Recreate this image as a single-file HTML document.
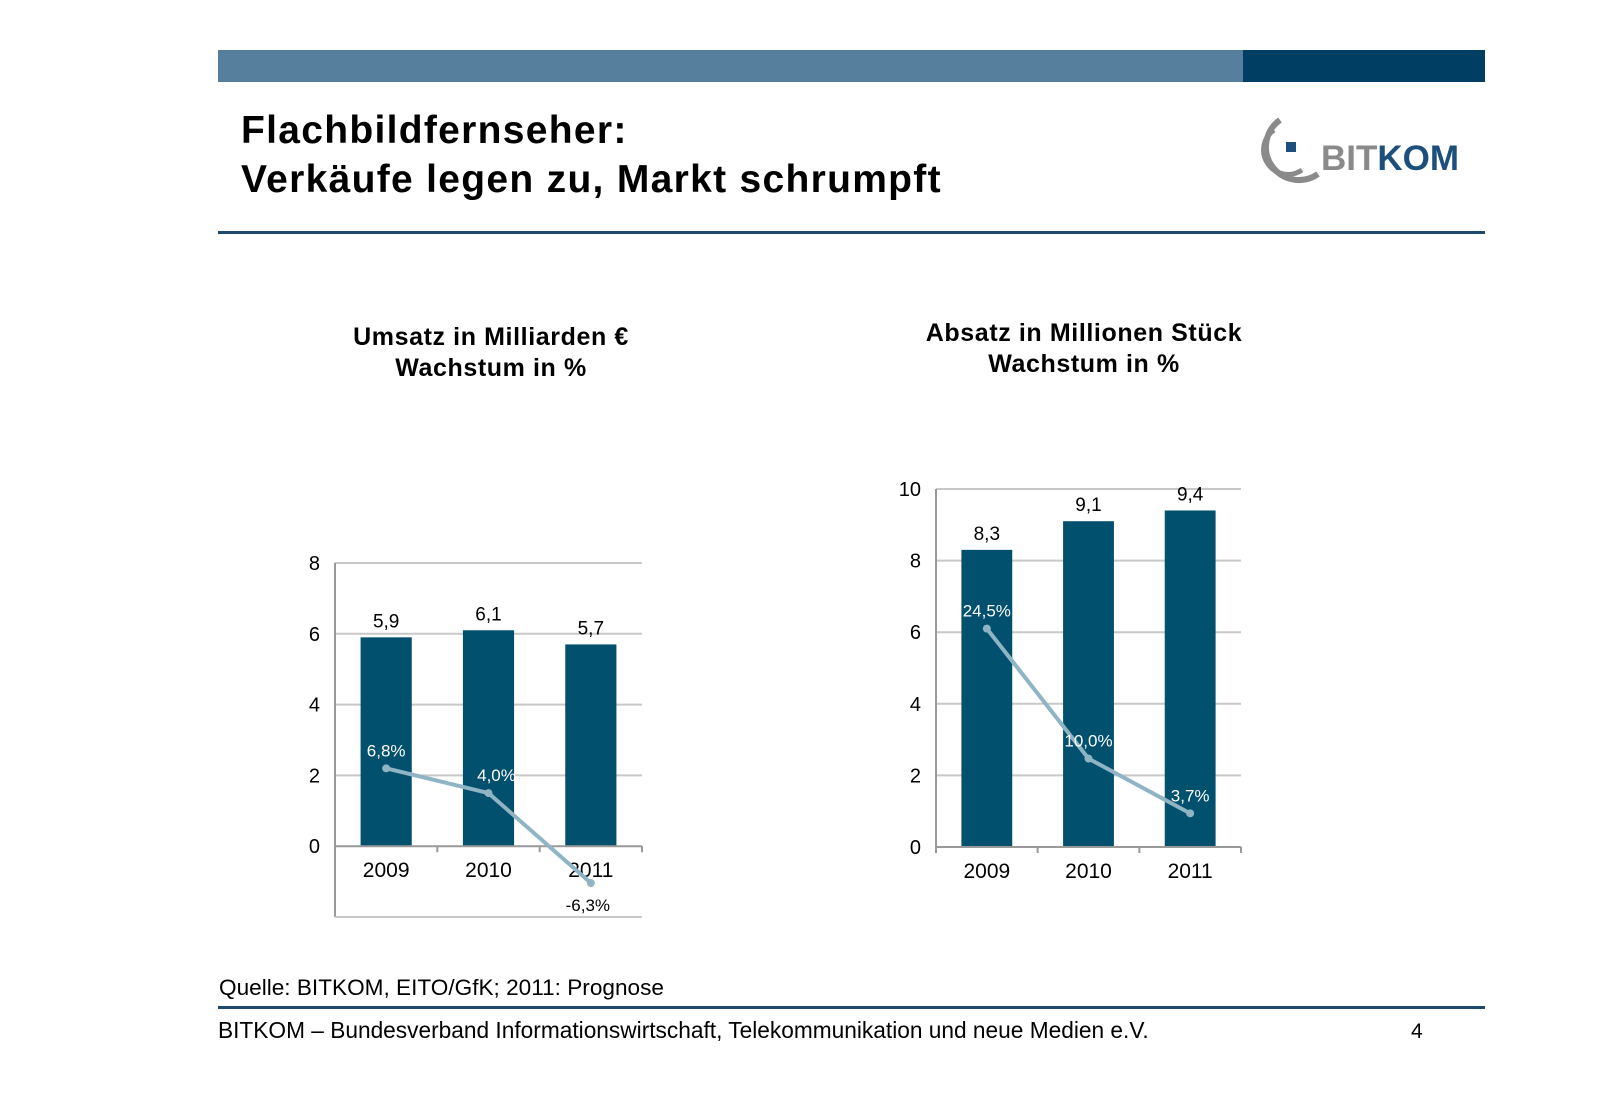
<!DOCTYPE html>
<html><head><meta charset="utf-8">
<style>
body{margin:0;width:1600px;height:1109px;background:#fff;font-family:"Liberation Sans",Arial,sans-serif;overflow:hidden;position:relative}
.abs{position:absolute}
</style></head><body>
<div class="abs" style="left:218px;top:50px;width:1025px;height:32px;background:#567e9d"></div>
<div class="abs" style="left:1243px;top:50px;width:242px;height:32px;background:#003f63"></div>
<div class="abs" style="left:241px;top:106px;font-size:39px;letter-spacing:1.3px;font-weight:bold;line-height:49px;color:#000">Flachbildfernseher:<br>Verkäufe legen zu, Markt schrumpft</div>
<svg class="abs" style="left:1250px;top:112px" width="220" height="80">
<path d="M30 8 A32 32 0 1 0 68 62" fill="none" stroke="#8a8a8a" stroke-width="6"/>
<path d="M24 18 A22 22 0 0 0 52 58" fill="none" stroke="#8a8a8a" stroke-width="5"/>
<rect x="36" y="30" width="10" height="10" fill="#1d4f7c"/>
<text x="71" y="58" font-size="35" font-weight="bold" fill="#8a8a8a" font-family="Liberation Sans Narrow,Liberation Sans,sans-serif">BIT<tspan fill="#1d4f7c">KOM</tspan></text>
</svg>
<div class="abs" style="left:218px;top:231px;width:1267px;height:3px;background:#1d4a6e"></div>

<svg class="abs" id="charts" style="left:0;top:0" width="1600" height="1109"></svg>

<div class="abs" style="left:219px;top:975px;font-size:22.6px;color:#000">Quelle: BITKOM, EITO/GfK; 2011: Prognose</div>
<div class="abs" style="left:218px;top:1006px;width:1267px;height:3px;background:#1d4a6e"></div>
<div class="abs" style="left:218px;top:1017px;font-size:22.7px;color:#000">BITKOM – Bundesverband Informationswirtschaft, Telekommunikation und neue Medien e.V.</div>
<div class="abs" style="left:1411px;top:1020px;font-size:21px;color:#000">4</div>

<script>
const categories = ["2009","2010","2011"];
const umsatzValues = [5.9, 6.1, 5.7];
const umsatzLabels = ["5,9","6,1","5,7"];
const umsatzGrowth = [2.2, 1.5, -1.04];
const umsatzGrowthLabels = ["6,8%","4,0%","-6,3%"];
const umsatzTicks = [0,2,4,6,8];
const absatzValues = [8.3, 9.1, 9.4];
const absatzLabels = ["8,3","9,1","9,4"];
const absatzGrowth = [6.1, 2.47, 0.94];
const absatzGrowthLabels = ["24,5%","10,0%","3,7%"];
const absatzTicks = [0,2,4,6,8,10];

const NS="http://www.w3.org/2000/svg";
const svg=document.getElementById('charts');
function mk(tag,attrs,parent){const e=document.createElementNS(NS,tag);for(const k in attrs)e.setAttribute(k,attrs[k]);(parent||svg).appendChild(e);return e;}

function chart(cfg){
  const g=mk('g',{});
  
  
  const y=v=>cfg.y0-(v-cfg.min)/(cfg.max-cfg.min)*(cfg.y0-cfg.y1);
  const bandW=(cfg.x1-cfg.x0)/categories.length;
  const xc=i=>cfg.x0+bandW*(i+0.5);
  const t=mk('text',{x:cfg.titleX,y:cfg.titleY,'text-anchor':'middle','font-size':25,'letter-spacing':0.6,'font-weight':'bold'},g);
  
  
  cfg.title.forEach((s,i)=>{const ts=mk('tspan',{x:cfg.titleX,dy:i?31:0},t);ts.textContent=s;});
  cfg.ticks.forEach(v=>{
    if(v!==0){const gl=mk('line',{x1:cfg.x0,x2:cfg.x1,y1:y(v),y2:y(v),stroke:'#c8c8c8','stroke-width':2},g);
    
    }
    const tl=mk('text',{x:cfg.x0-15,y:y(v)+7,'text-anchor':'end','font-size':20},g);
    
    
    tl.textContent=v;
  });
  const ax=mk('line',{x1:cfg.x0,x2:cfg.x0,y1:y(cfg.max),y2:y(cfg.min),stroke:'#999','stroke-width':2},g);
  
  
  if(cfg.min<0){const bl=mk('line',{x1:cfg.x0,x2:cfg.x1,y1:y(cfg.min),y2:y(cfg.min),stroke:'#c8c8c8','stroke-width':2},g);
    
    }
  cfg.values.forEach((v,i)=>{
    const bw=bandW*0.5;
    const r=mk('rect',{x:xc(i)-bw/2,y:y(v),width:bw,height:y(0)-y(v),fill:'#00506e'},g);
    
    
    const l=mk('text',{x:xc(i),y:y(v)-10,'text-anchor':'middle','font-size':19},g);
    
    
    l.textContent=cfg.labels[i];
  });
  const xa=mk('line',{x1:cfg.x0,x2:cfg.x1,y1:y(0),y2:y(0),stroke:'#999','stroke-width':2},g);
  
  
  for(let i=0;i<=categories.length;i++){mk('line',{x1:cfg.x0+bandW*i,x2:cfg.x0+bandW*i,y1:y(0),y2:y(0)+6,stroke:'#999','stroke-width':2},g);}
  categories.forEach((c,i)=>{
    const l=mk('text',{x:xc(i),y:y(0)+31,'text-anchor':'middle','font-size':21},g);
    
    
    l.textContent=c;
  });
  const pts=cfg.growth.map((v,i)=>xc(i)+','+y(v)).join(' ');
  const pl=mk('polyline',{points:pts,fill:'none',stroke:'#8fb4c4','stroke-width':4},g);
  
  
  cfg.growth.forEach((v,i)=>{
    const c=mk('circle',{cx:xc(i),cy:y(v),r:4,fill:'#8fb4c4'},g);
    
    
    const neg=v<0;
    const o=cfg.growthOffsets[i];
    const l=mk('text',{x:xc(i)+o,y:neg?y(v)+28:y(v)-12,'text-anchor':'middle','font-size':17,fill:neg?'#000':'#fff'},g);
    
    
    l.textContent=cfg.growthLabels[i];
  });
}
chart({name:'umsatz-chart',title:['Umsatz in Milliarden €','Wachstum in %'],titleX:491,titleY:345,
  x0:335,x1:642,y0:917,y1:563,min:-2,max:8,ticks:umsatzTicks,values:umsatzValues,labels:umsatzLabels,
  growth:umsatzGrowth,growthLabels:umsatzGrowthLabels,growthOffsets:[0,8,-3]});
chart({name:'absatz-chart',title:['Absatz in Millionen Stück','Wachstum in %'],titleX:1084,titleY:341,
  x0:936,x1:1241,y0:847,y1:489,min:0,max:10,ticks:absatzTicks,values:absatzValues,labels:absatzLabels,
  growth:absatzGrowth,growthLabels:absatzGrowthLabels,growthOffsets:[0,0,0]});
</script>
</body></html>
